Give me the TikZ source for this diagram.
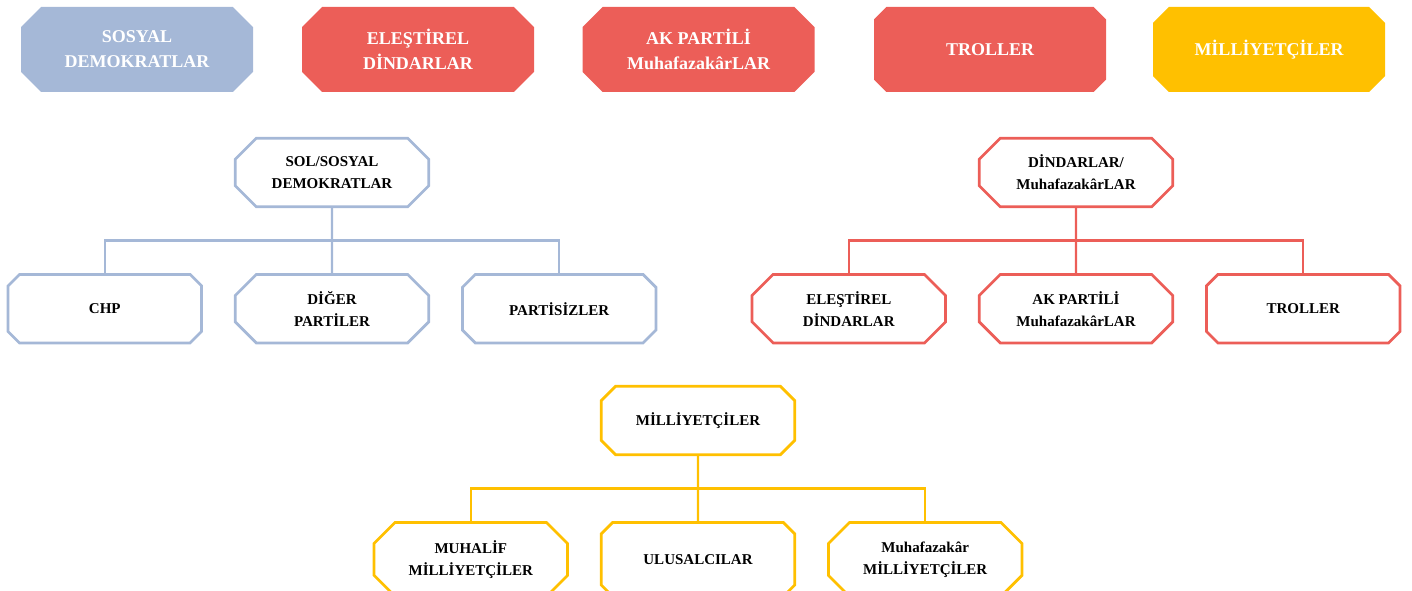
\documentclass[tikz,border=0pt]{standalone}
\usepackage{fontspec}
\setmainfont{Liberation Serif}
\usepackage{tikz}
\usetikzlibrary{positioning}
\usetikzlibrary{calc}
\usetikzlibrary{shapes.misc}
\usepackage{xcolor}
\definecolor{sdblue}{HTML}{A5B8D7}
\definecolor{dinred}{HTML}{EC5E58}
\definecolor{milyellow}{HTML}{FFC000}

\begin{document}
\begin{tikzpicture}[x=1pt,y=1pt,
    head/.style={chamfered rectangle, chamfered rectangle xsep=17pt,
      fill=#1, text=white, minimum width=232pt, minimum height=85pt,
      align=center, font=\fontsize{18}{25}\selectfont\bfseries},
    box/.style={chamfered rectangle, chamfered rectangle xsep=18pt,
      draw=#1, line width=2.7pt, fill=white, minimum width=193.5pt,
      minimum height=68.5pt, align=center, font=\fontsize{15}{22}\selectfont\bfseries},
    link/.style={draw=#1, line width=2.4pt}]
    \useasboundingbox (0,0) rectangle (1412,591);
    % top row
    \foreach \x/\c/\t [count=\i] in {137/sdblue/{SOSYAL\\DEMOKRATLAR},
        418/dinred/{ELEŞTİREL\\DİNDARLAR}, 698.5/dinred/{AK PARTİLİ\\MuhafazakârLAR},
        990/dinred/{TROLLER}, 1269/milyellow/{MİLLİYETÇİLER}} {
      \node[head=\c] (H\i) at (\x,541.5) {\t};
    }
    % sol / sosyal demokratlar
    \node[box=sdblue] (sol) at (332,418.5) {SOL/SOSYAL\\DEMOKRATLAR};
    \node[box=sdblue, below=65pt of sol] (diger) {DİĞER\\PARTİLER};
    \node[box=sdblue, left=31pt of diger] (chp) {CHP};
    \node[box=sdblue, right=31pt of diger] (partisiz) {PARTİSİZLER};
    \coordinate (solbus) at ($(sol.south)!.5!(diger.north)$);
    \draw[link=sdblue] (sol) -- (diger);
    \draw[link=sdblue] (chp.north) |- (solbus) -| (partisiz.north);
    % dindarlar / muhafazakarlar
    \node[box=dinred] (din) at (1076,418.5) {DİNDARLAR/\\MuhafazakârLAR};
    \node[box=dinred, below=65pt of din] (akp) {AK PARTİLİ\\MuhafazakârLAR};
    \node[box=dinred, left=31pt of akp] (elestirel) {ELEŞTİREL\\DİNDARLAR};
    \node[box=dinred, right=31pt of akp] (troll) {TROLLER};
    \coordinate (dinbus) at ($(din.south)!.5!(akp.north)$);
    \draw[link=dinred] (din) -- (akp);
    \draw[link=dinred] (elestirel.north) |- (dinbus) -| (troll.north);
    % milliyetciler
    \node[box=milyellow] (mil) at (698,170.5) {MİLLİYETÇİLER};
    \node[box=milyellow, minimum height=74pt, below=65pt of mil] (ulusal) {ULUSALCILAR};
    \node[box=milyellow, minimum height=74pt, left=31pt of ulusal] (muhalif) {MUHALİF\\MİLLİYETÇİLER};
    \node[box=milyellow, minimum height=74pt, right=31pt of ulusal] (muhmil) {Muhafazakâr\\MİLLİYETÇİLER};
    \coordinate (milbus) at ($(mil.south)!.5!(ulusal.north)$);
    \draw[link=milyellow] (mil) -- (ulusal);
    \draw[link=milyellow] (muhalif.north) |- (milbus) -| (muhmil.north);
\end{tikzpicture}
\end{document}
